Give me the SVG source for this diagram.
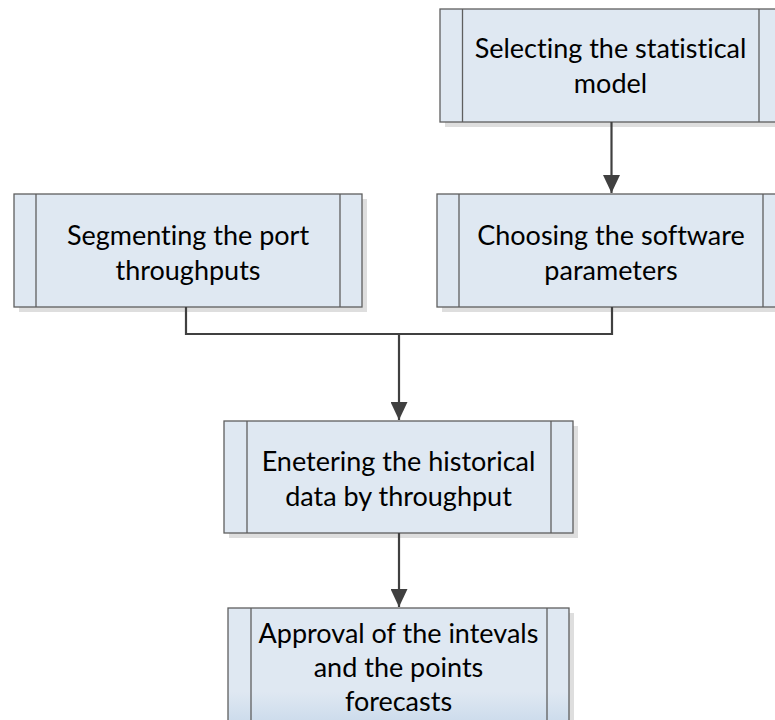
<svg xmlns="http://www.w3.org/2000/svg" width="775" height="720" viewBox="0 0 775 720">
  <defs>
    <marker id="arrow" viewBox="0 0 18 17" refX="18" refY="8.5" markerWidth="18" markerHeight="17" markerUnits="userSpaceOnUse" orient="auto">
      <path d="M0,0 L18,8.5 L0,17 Z" fill="#404040"/>
    </marker>
    <linearGradient id="fadeBottom" x1="0" y1="0" x2="0" y2="1">
      <stop offset="0" stop-color="#dfe8f2"/>
      <stop offset="0.74" stop-color="#dfe8f2"/>
      <stop offset="1" stop-color="#cddcec"/>
    </linearGradient>
  </defs>
  <style>
    .shadow { fill: #dedede; }
    .box { fill: #dfe8f2; stroke: #5f5f5f; stroke-width: 1.3; }
    .bar { stroke: #5f5f5f; stroke-width: 1.3; fill: none; }
    .label { font-family: "Lato", "Liberation Sans", sans-serif; font-size: 27px; fill: #000; text-anchor: middle; font-variant-ligatures: none; }
    .conn { fill: none; stroke: #404040; stroke-width: 2.2; }
  </style>

  <rect width="775" height="720" fill="#ffffff"/>

  <!-- Selecting the statistical model -->
  <g id="select-model">
    <rect class="shadow" x="445" y="14" width="341" height="113"/>
    <rect class="box" x="440" y="9" width="341" height="113"/>
    <line class="bar" x1="462.5" y1="9" x2="462.5" y2="122"/>
    <line class="bar" x1="759" y1="9" x2="759" y2="122"/>
    <text class="label" x="610.5" y="58">Selecting the statistical</text>
    <text class="label" x="610.5" y="93">model</text>
  </g>

  <!-- Segmenting the port throughputs -->
  <g id="segment-port">
    <rect class="shadow" x="19" y="199" width="348" height="113"/>
    <rect class="box" x="14" y="194" width="348" height="113"/>
    <line class="bar" x1="36" y1="194" x2="36" y2="307"/>
    <line class="bar" x1="340" y1="194" x2="340" y2="307"/>
    <text class="label" x="188" y="245">Segmenting the port</text>
    <text class="label" x="188" y="280">throughputs</text>
  </g>

  <!-- Choosing the software parameters -->
  <g id="choose-software">
    <rect class="shadow" x="442" y="199" width="348" height="113"/>
    <rect class="box" x="437" y="194" width="348" height="113"/>
    <line class="bar" x1="459" y1="194" x2="459" y2="307"/>
    <line class="bar" x1="763" y1="194" x2="763" y2="307"/>
    <text class="label" x="611" y="245">Choosing the software</text>
    <text class="label" x="611" y="280">parameters</text>
  </g>

  <!-- Entering the historical data -->
  <g id="enter-data">
    <rect class="shadow" x="229" y="426" width="349" height="112"/>
    <rect class="box" x="224" y="421" width="349" height="112"/>
    <line class="bar" x1="247" y1="421" x2="247" y2="533"/>
    <line class="bar" x1="551" y1="421" x2="551" y2="533"/>
    <text class="label" x="398.5" y="471">Enetering the historical</text>
    <text class="label" x="398.5" y="506">data by throughput</text>
  </g>

  <!-- Approval of the forecasts -->
  <g id="approve-forecasts">
    <rect class="shadow" x="233" y="613" width="341" height="113"/>
    <rect class="box" x="228" y="608" width="341" height="113" style="fill:url(#fadeBottom)"/>
    <line class="bar" x1="251" y1="608" x2="251" y2="721"/>
    <line class="bar" x1="547" y1="608" x2="547" y2="721"/>
    <text class="label" x="398.5" y="643">Approval of the intevals</text>
    <text class="label" x="398.5" y="677">and the points</text>
    <text class="label" x="398.5" y="711">forecasts</text>
  </g>

  <!-- Connectors -->
  <g id="connectors">
    <path class="conn" d="M611.5,122 V193" marker-end="url(#arrow)"/>
    <path class="conn" d="M186,307 V334 H612 V307"/>
    <path class="conn" d="M399,334 V420" marker-end="url(#arrow)"/>
    <path class="conn" d="M399,533 V607" marker-end="url(#arrow)"/>
  </g>
</svg>
